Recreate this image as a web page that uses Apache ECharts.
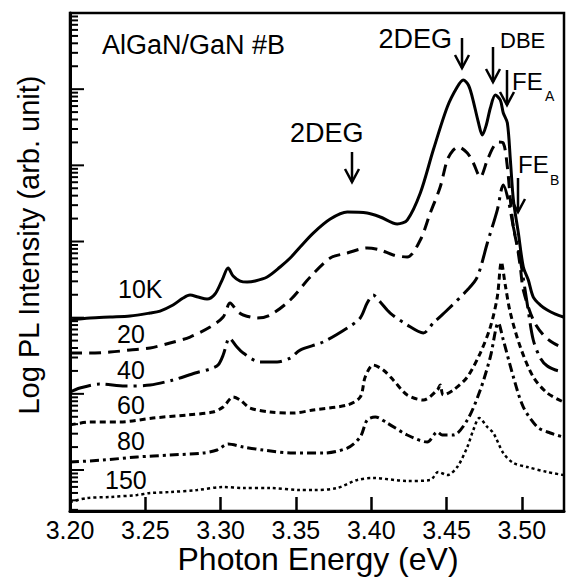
<!DOCTYPE html>
<html>
<head>
<meta charset="utf-8">
<script src="https://cdn.jsdelivr.net/npm/echarts@6/dist/echarts.min.js"></script>
<style>
  html, body { margin: 0; padding: 0; background: #fff; }
  #chart { width: 567px; height: 577px; }
</style>
</head>
<body>
<div id="chart"></div>
<script>
// PL spectra of AlGaN/GaN sample #B: photon energy (eV) vs log10 of PL intensity
const energy10K = [3.2000,3.2133,3.2266,3.2399,3.2532,3.2598,3.2684,3.2751,3.2797,3.2850,3.2910,3.2963,3.3010,3.3050,3.3083,3.3130,3.3176,3.3229,3.3309,3.3395,3.3462,3.3528,3.3615,3.3728,3.3841,3.3973,3.4060,3.4173,3.4239,3.4326,3.4412,3.4505,3.4571,3.4611,3.4645,3.4671,3.4711,3.4738,3.4764,3.4791,3.4824,3.4857,3.4877,3.4904,3.4924,3.4944,3.4977,3.5010,3.5043,3.5076,3.5123,3.5169,3.5223,3.5276];
const logI10K = [1.969,1.996,2.009,2.022,2.061,2.087,2.166,2.258,2.297,2.271,2.245,2.311,2.494,2.652,2.547,2.481,2.468,2.481,2.534,2.665,2.783,2.928,3.111,3.295,3.387,3.374,3.322,3.230,3.282,3.637,4.201,4.766,5.028,5.120,5.055,4.897,4.569,4.398,4.529,4.753,4.923,4.858,4.687,4.556,4.070,3.545,3.111,2.665,2.494,2.271,2.166,2.101,2.048,2.009];

const energy20K = [3.2000,3.2133,3.2266,3.2399,3.2532,3.2664,3.2797,3.2930,3.3017,3.3063,3.3110,3.3150,3.3243,3.3329,3.3462,3.3595,3.3728,3.3841,3.3973,3.4060,3.4146,3.4239,3.4326,3.4392,3.4458,3.4505,3.4545,3.4578,3.4638,3.4678,3.4724,3.4771,3.4811,3.4844,3.4877,3.4904,3.4924,3.4944,3.4970,3.4990,3.5010,3.5076,3.5143,3.5209,3.5276];
const logI20K = [1.536,1.536,1.549,1.575,1.602,1.667,1.746,1.877,2.009,2.192,2.087,2.035,1.996,2.035,2.232,2.534,2.783,2.849,2.915,2.888,2.823,2.796,3.020,3.374,3.715,4.070,4.201,4.241,4.162,4.031,3.847,4.070,4.241,4.306,4.293,3.978,3.545,3.190,2.928,2.665,2.363,1.969,1.772,1.667,1.602];

const energy40K = [3.2000,3.2066,3.2199,3.2365,3.2532,3.2684,3.2831,3.2930,3.2983,3.3017,3.3043,3.3056,3.3103,3.3150,3.3262,3.3375,3.3462,3.3528,3.3681,3.3841,3.3927,3.3973,3.4013,3.4060,3.4126,3.4239,3.4346,3.4412,3.4505,3.4638,3.4704,3.4771,3.4837,3.4877,3.4910,3.4944,3.4990,3.5037,3.5076,3.5123,3.5169,3.5223,3.5276];
const logI40K = [1.024,1.077,1.129,1.103,1.116,1.182,1.273,1.326,1.378,1.510,1.681,1.733,1.628,1.536,1.418,1.418,1.470,1.575,1.681,1.864,1.996,2.192,2.297,2.206,2.061,1.904,1.799,1.930,2.101,2.363,2.534,2.980,3.413,3.742,3.545,3.190,2.757,2.166,1.707,1.470,1.365,1.313,1.287];

const energy60K = [3.2000,3.2133,3.2332,3.2551,3.2777,3.2950,3.3017,3.3083,3.3130,3.3196,3.3329,3.3482,3.3615,3.3841,3.3927,3.3960,3.4013,3.4080,3.4146,3.4239,3.4346,3.4439,3.4458,3.4479,3.4545,3.4638,3.4724,3.4791,3.4837,3.4864,3.4890,3.4924,3.4990,3.5076,3.5169,3.5276];
const logI60K = [0.591,0.630,0.630,0.683,0.722,0.761,0.827,0.958,0.919,0.814,0.761,0.748,0.788,0.853,0.958,1.221,1.378,1.313,1.182,0.985,0.919,1.050,1.116,0.985,1.050,1.221,1.536,1.877,2.271,2.731,2.429,2.061,1.615,1.221,1.011,0.893];

const energy80K = [3.2000,3.2219,3.2445,3.2664,3.2884,3.2977,3.3050,3.3150,3.3282,3.3482,3.3681,3.3841,3.3927,3.3973,3.4027,3.4106,3.4239,3.4372,3.4439,3.4472,3.4545,3.4638,3.4724,3.4791,3.4844,3.4877,3.4944,3.5010,3.5103,3.5189,3.5276];
const logI80K = [0.105,0.131,0.171,0.197,0.223,0.263,0.341,0.302,0.263,0.223,0.223,0.289,0.433,0.656,0.696,0.617,0.460,0.368,0.499,0.460,0.460,0.656,1.050,1.484,1.930,1.707,1.221,0.827,0.565,0.486,0.433];

const energy150K = [3.2000,3.2113,3.2266,3.2445,3.2532,3.2664,3.2844,3.3017,3.3150,3.3329,3.3528,3.3615,3.3774,3.3907,3.4013,3.4239,3.4392,3.4445,3.4505,3.4571,3.4638,3.4678,3.4718,3.4771,3.4811,3.4877,3.4944,3.5037,3.5169,3.5276];
const logI150K = [-0.420,-0.368,-0.354,-0.328,-0.302,-0.289,-0.263,-0.223,-0.236,-0.236,-0.263,-0.263,-0.236,-0.131,-0.105,-0.144,-0.131,-0.026,-0.066,0.039,0.302,0.525,0.683,0.565,0.486,0.223,0.092,0.039,-0.026,-0.066];

// Axis ranges
const xMin = 3.20, xMax = 3.528, xStep = 0.05;
const yMin = -0.538, yMax = 6;

const FONT = '"Liberation Sans", Arial, Helvetica, sans-serif';

function pairs(xs, ys) { return xs.map((x, i) => [x, ys[i]]); }

// Decade (major) and 2..9 (minor) tick positions on the log-intensity axis
const yTicks = [];
for (let n = -1; n <= 5; n++) {
  if (n >= 0) yTicks.push([xMin, n, 1]);
  for (let k = 2; k <= 9; k++) {
    const v = n + Math.log10(k);
    if (v > yMin && v < yMax) yTicks.push([xMin, v, 0]);
  }
}

function spectrum(xs, ys, dash, width) {
  return {
    type: 'line',
    data: pairs(xs, ys),
    showSymbol: false,
    smooth: 0.3,
    silent: true,
    z: 3,
    lineStyle: { color: '#000', width: width, type: dash, cap: 'butt' }
  };
}

const chart = echarts.init(document.getElementById('chart'), null, { renderer: 'svg', width: 567, height: 577 });

const txt = (text, x, y, size, align) => ({
  type: 'text', x: x, y: y, z: 10,
  style: { text: text, fontSize: size, fontFamily: FONT, fill: '#000', align: align || 'left', verticalAlign: 'middle' }
});
const arrow = (x, y1, y2) => ({
  type: 'group', z: 10,
  children: [
    { type: 'line', shape: { x1: x, y1: y1, x2: x, y2: y2 }, style: { stroke: '#000', lineWidth: 2.5 } },
    { type: 'polyline', shape: { points: [[x - 7, y2 - 13], [x, y2], [x + 7, y2 - 13]] }, style: { stroke: '#000', lineWidth: 2.5, fill: null } }
  ]
});

chart.setOption({
  animation: false,
  backgroundColor: '#fff',
  grid: { left: 70, right: 3, top: 13, bottom: 66, show: true, borderColor: '#000', borderWidth: 2.5, backgroundColor: 'transparent' },
  xAxis: {
    type: 'value', min: xMin, max: xMax, interval: xStep,
    axisLine: { show: true, onZero: false, lineStyle: { color: '#000', width: 3 } },
    axisTick: { show: true, inside: true, length: 14, lineStyle: { color: '#000', width: 2.5 } },
    axisLabel: { formatter: v => v.toFixed(2), fontSize: 25, fontFamily: FONT, color: '#000', margin: 6, showMaxLabel: false },
    splitLine: { show: false }
  },
  yAxis: {
    type: 'value', min: yMin, max: yMax,
    axisLine: { show: true, onZero: false, lineStyle: { color: '#000', width: 3 } },
    axisTick: { show: false },
    axisLabel: { show: false },
    splitLine: { show: false }
  },
  series: [
    spectrum(energy10K, logI10K, 'solid', 3),
    spectrum(energy20K, logI20K, [12, 7], 3),
    spectrum(energy40K, logI40K, [22, 6, 3, 6], 3),
    spectrum(energy60K, logI60K, [6, 4], 3),
    spectrum(energy80K, logI80K, [9, 4, 3, 4], 3),
    spectrum(energy150K, logI150K, [3, 3], 2.5),
    {
      type: 'custom',
      data: yTicks,
      silent: true,
      clip: false,
      z: 5,
      renderItem: function (params, api) {
        const p = api.coord([api.value(0), api.value(1)]);
        const len = api.value(2) ? 14 : 8;
        return { type: 'line', shape: { x1: p[0], y1: p[1], x2: p[0] + len, y2: p[1] }, style: { stroke: '#000', lineWidth: 2 } };
      }
    }
  ],
  graphic: [
    txt('AlGaN/GaN #B', 102, 45, 27),
    txt('2DEG', 452, 39, 27, 'right'),
    arrow(462, 38, 68),
    txt('DBE', 500, 40, 22),
    arrow(493, 47, 82),
    arrow(507, 70, 105),
    txt('FE', 512, 81, 24),
    txt('A', 545, 96, 14),
    txt('FE', 518, 164, 24),
    txt('B', 550, 180, 14),
    arrow(518, 178, 212),
    txt('2DEG', 290, 133, 27),
    arrow(352, 152, 182),
    txt('10K', 118, 289, 25),
    txt('20', 117, 334, 25),
    txt('40', 117, 370, 25),
    txt('60', 117, 405, 25),
    txt('80', 117, 441, 25),
    txt('150', 105, 480, 25),
    {
      type: 'text', x: 29, y: 245, rotation: Math.PI / 2, z: 10,
      style: { text: 'Log PL Intensity (arb. unit)', fontSize: 29, fontFamily: FONT, fill: '#000', align: 'center', verticalAlign: 'middle' }
    },
    txt('Photon Energy (eV)', 318, 559, 32, 'center')
  ]
});
</script>
</body>
</html>
